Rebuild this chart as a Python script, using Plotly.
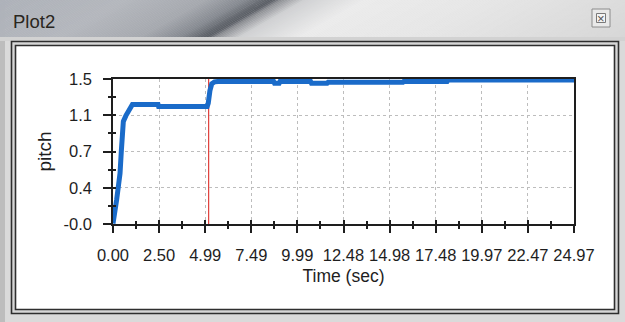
import numpy as np
import plotly.graph_objects as go

# ---- data -------------------------------------------------------------
time_s = [0.0, 0.05, 0.20, 0.30, 0.38, 0.45, 0.50, 0.56, 0.70, 0.83, 0.95, 1.05,
          2.44, 2.47, 5.10, 5.16, 5.25, 5.35, 5.50, 5.70, 8.70, 8.75, 9.00, 9.05,
          10.70, 10.75, 11.60, 11.65, 15.70, 15.75, 18.10, 18.15, 24.97]
pitch = [0.00, 0.05, 0.25, 0.40, 0.52, 0.75, 0.87, 1.06, 1.12, 1.16, 1.22, 1.235,
         1.235, 1.215, 1.215, 1.25, 1.38, 1.45, 1.47, 1.475, 1.475, 1.455, 1.455, 1.475,
         1.475, 1.455, 1.455, 1.465, 1.465, 1.475, 1.475, 1.49, 1.49]

x_tick_labels = ["0.00", "2.50", "4.99", "7.49", "9.99", "12.48", "14.98",
                 "17.48", "19.97", "22.47", "24.97"]
y_tick_labels = ["-0.0", "0.4", "0.7", "1.1", "1.5"]

x_min, x_max = 0.0, 24.97
y_min, y_max = -0.005, 1.5
cursor_time = 5.18

# ---- page geometry (pixels) ----------------------------------------------
W, H = 625, 322
L, R, T, B = 113, 51, 79, 98
PW, PH = W - L - R, H - T - B


def fx(p):
    return (p - L) / PW


def fy(p):
    return (H - B - p) / PH


x_ticks = np.linspace(x_min, x_max, len(x_tick_labels))
y_ticks = np.linspace(y_min, y_max, len(y_tick_labels))
x_minor = (x_ticks[:-1] + x_ticks[1:]) / 2
y_minor = (y_ticks[:-1] + y_ticks[1:]) / 2

FONT = "Arial"
INK = "#1e1e1e"

shapes = []


def rect(x0, y0, x1, y1, fill=None, line=None, lw=0, layer="below", opacity=1.0):
    shapes.append(dict(type="rect", xref="paper", yref="paper",
                       x0=fx(x0), x1=fx(x1), y0=fy(y0), y1=fy(y1),
                       fillcolor=fill if fill else "rgba(0,0,0,0)",
                       line=dict(color=line if line else "rgba(0,0,0,0)", width=lw),
                       layer=layer, opacity=opacity))


def poly(pts, fill):
    path = "M " + " L ".join(f"{fx(a):.5f},{fy(b):.5f}" for a, b in pts) + " Z"
    shapes.append(dict(type="path", xref="paper", yref="paper", path=path,
                       fillcolor=fill, line=dict(width=0), layer="below"))


def hex_mix(c1, c2, t):
    a = [int(c1[i:i + 2], 16) for i in (1, 3, 5)]
    b = [int(c2[i:i + 2], 16) for i in (1, 3, 5)]
    return "#" + "".join(f"{round(u + (v - u) * t):02x}" for u, v in zip(a, b))


def ramp(stops, u):
    for (a, ca), (b, cb) in zip(stops[:-1], stops[1:]):
        if a <= u <= b:
            return hex_mix(ca, cb, (u - a) / (b - a))
    return stops[0][1] if u < stops[0][0] else stops[-1][1]


# window surround
rect(0, 0, 5, H, fill="#bdbdbd")

# title bar: slanted gradient made of thin parallelogram strips
BAR_H = 37
SHEAR = 65          # horizontal shift of a strip from bottom edge to top edge
bar_stops = [(-80, "#adb1b9"), (60, "#b4b7bd"), (140, "#a6a9af"), (180, "#868a91"),
             (200, "#63676e"), (208, "#5a5e65"), (216, "#8e9095"), (240, "#d0d1d3"),
             (300, "#ececec"), (420, "#e7e7e7"), (560, "#dcdcdc"), (640, "#d6d6d6")]
step = 3
for u in range(-80, W + 3, step):
    col = ramp(bar_stops, u + step / 2)
    poly([(u, BAR_H), (u + step + 0.7, BAR_H),
          (u + step + 0.7 + SHEAR, 0), (u + SHEAR, 0)], col)
rect(0, BAR_H, W, 41, fill="#d2d2d2")

# close button
rect(592, 9, 610, 27, fill="#e9e9e9", line="#8c8c8c", lw=1)
rect(596.5, 13.5, 605.5, 22.5, fill="#f4f4f4", line="#7a7a7a", lw=1)

# double frame around the plot window
rect(11.5, 41.5, 618.5, 313.5, fill="#d6d6d6", line="#2e2e2e", lw=1.6)
rect(15.5, 45.5, 614.5, 309.5, fill="#ffffff", line="#2e2e2e", lw=1.6)

# cursor
shapes.append(dict(type="line", xref="x", yref="paper", x0=cursor_time, x1=cursor_time,
                   y0=0, y1=1, line=dict(color="#e0403c", width=1.2), layer="below"))

fig = go.Figure()
fig.add_trace(go.Scatter(x=time_s, y=pitch, mode="lines",
                         line=dict(color="#1a6bc9", width=5, shape="linear"),
                         showlegend=False, hoverinfo="skip"))
# carrier for the inward tick marks
fig.add_trace(go.Scatter(x=time_s, y=pitch, xaxis="x2", yaxis="y2", mode="lines",
                         line=dict(width=0), opacity=0, showlegend=False,
                         hoverinfo="skip"))

axis_common = dict(showline=True, linecolor=INK, linewidth=1.5, mirror=True,
                   zeroline=False, showgrid=True, gridcolor="#bdbdbd", griddash="dot",
                   gridwidth=1, tickcolor=INK, tickwidth=1.5,
                   tickfont=dict(family=FONT, size=16.5, color=INK))

fig.update_layout(
    width=W, height=H, autosize=False,
    margin=dict(l=L, r=R, t=T, b=B, pad=0),
    paper_bgcolor="#dadada", plot_bgcolor="#ffffff",
    shapes=shapes,
    xaxis=dict(range=[x_min, x_max], tickmode="array", tickvals=x_ticks,
               ticktext=x_tick_labels, ticks="outside", ticklen=7,
               minor=dict(tickvals=x_minor, ticks="outside", ticklen=3,
                          tickcolor=INK, tickwidth=1.5, showgrid=False),
               ticklabelstandoff=8,
               title=dict(text="Time (sec)", font=dict(family=FONT, size=17.5, color=INK),
                          standoff=7),
               **axis_common),
    yaxis=dict(range=[y_min, y_max], tickmode="array", tickvals=y_ticks,
               ticktext=y_tick_labels, ticks="outside", ticklen=8,
               minor=dict(tickvals=y_minor, ticks="outside", ticklen=3,
                          tickcolor=INK, tickwidth=1.5, showgrid=False),
               ticklabelstandoff=8,
               title=dict(text="pitch", font=dict(family=FONT, size=19, color=INK),
                          standoff=7),
               **axis_common),
    xaxis2=dict(overlaying="x", range=[x_min, x_max], tickmode="array", tickvals=x_ticks,
                ticks="inside", ticklen=4, tickwidth=1.5, tickcolor=INK,
                minor=dict(tickvals=x_minor, ticks="inside", ticklen=3,
                           tickcolor=INK, tickwidth=1.5),
                showticklabels=False, showline=False, showgrid=False, zeroline=False),
    yaxis2=dict(overlaying="y", range=[y_min, y_max], tickmode="array", tickvals=y_ticks,
                ticks="inside", ticklen=3, tickwidth=1.5, tickcolor=INK,
                minor=dict(tickvals=y_minor, ticks="inside", ticklen=3,
                           tickcolor=INK, tickwidth=1.5),
                showticklabels=False, showline=False, showgrid=False, zeroline=False),
    annotations=[
        dict(text="Plot2", xref="paper", yref="paper", x=fx(11), y=fy(21),
             xanchor="left", yanchor="middle", showarrow=False,
             font=dict(family=FONT, size=18.5, color="#2a2620")),
        dict(text="×", xref="paper", yref="paper", x=fx(601), y=fy(18),
             xanchor="center", yanchor="middle", showarrow=False,
             font=dict(family=FONT, size=13, color="#555555")),
    ],
)

fig.write_html("out.html")
